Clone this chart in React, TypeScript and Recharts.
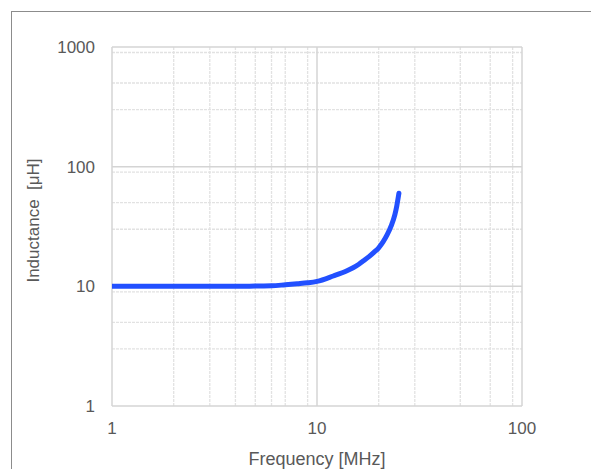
import { LineChart, Line, XAxis, YAxis, CartesianGrid } from "recharts";

// (MHz, µH)
const freq = [1, 2, 3, 4, 5, 6, 7, 8, 9, 10, 12, 14, 15, 16, 17, 18, 19, 20, 21, 22, 23, 24, 24.5, 25.1];
const inductance = [
  10, 10, 10, 10, 10.05, 10.1, 10.3, 10.5, 10.7, 11, 12.2, 13.5, 14.3, 15.3, 16.5, 17.8, 19.3, 21, 23.5, 27,
  32, 40, 47, 60,
];

const xTicks = [1, 10, 100];
const yTicks = [1, 10, 100, 1000];
const xMinor = [2, 3, 4, 5, 6, 7, 8, 9, 20, 30, 40, 50, 60, 70, 80, 90];
const yMinor = [
  2, 3, 4, 5, 6, 7, 8, 9,
  20, 30, 40, 50, 60, 70, 80, 90,
  200, 300, 400, 500, 600, 700, 800, 900,
];

const data = freq.map((f, i) => ({ f, L: inductance[i] }));

const FONT = "'Liberation Sans', Arial, sans-serif";
const TEXT = "#595959";

export default function App() {
  return (
    <div style={{ position: "fixed", left: 0, top: 0, width: 591, height: 469, background: "#fff", overflow: "hidden" }}>
      <div
        style={{
          position: "absolute",
          left: 11,
          top: 11,
          width: 640,
          height: 520,
          borderTop: "1.5px solid #8c8c8c",
          borderLeft: "1.5px solid #8c8c8c",
        }}
      />
      <div style={{ position: "absolute", left: 0, top: 0 }}>
        <LineChart
          width={591}
          height={469}
          data={data}
          margin={{ top: 47, right: 69, left: 52, bottom: 0 }}
          style={{ fontFamily: FONT }}
        >
          <CartesianGrid
            horizontalValues={yMinor}
            verticalValues={xMinor}
            stroke="#e2e2e2"
            strokeDasharray="3 1"
            strokeWidth={1.3}
          />
          <CartesianGrid
            horizontalValues={yTicks}
            verticalValues={xTicks}
            stroke="#d4d4d4"
            strokeWidth={1.5}
          />
          <XAxis
            dataKey="f"
            type="number"
            scale="log"
            domain={[1, 100]}
            ticks={xTicks}
            allowDataOverflow
            height={63}
            axisLine={false}
            tickLine={false}
            tickSize={0}
            tickMargin={16}
            tick={{ fill: TEXT, fontSize: 17, fontFamily: FONT }}
            label={{
              value: "Frequency [MHz]",
              position: "insideBottom",
              offset: 4,
              fill: TEXT,
              fontSize: 18,
              fontFamily: FONT,
            }}
          />
          <YAxis
            dataKey="L"
            type="number"
            scale="log"
            domain={[1, 1000]}
            ticks={yTicks}
            allowDataOverflow
            width={60}
            axisLine={false}
            tickLine={false}
            tickSize={0}
            tickMargin={17}
            tick={{ fill: TEXT, fontSize: 17, fontFamily: FONT }}
            label={{
              value: "Inductance\u00a0\u00a0[\u03bcH]",
              angle: -90,
              position: "insideLeft",
              offset: -19,
              dy: -6,
              fill: TEXT,
              fontSize: 17,
              fontFamily: FONT,
              style: { textAnchor: "middle" },
            }}
          />
          <Line
            type="monotone"
            dataKey="L"
            stroke="#2250ff"
            strokeWidth={5}
            strokeLinecap="round"
            dot={false}
            isAnimationActive={false}
          />
        </LineChart>
      </div>
    </div>
  );
}
